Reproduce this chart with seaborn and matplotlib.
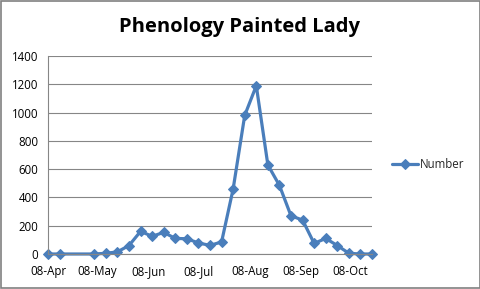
import matplotlib
matplotlib.use("Agg")
import matplotlib.pyplot as plt
import matplotlib.dates as mdates
from matplotlib.patches import Rectangle
import seaborn as sns
import pandas as pd
import numpy as np

dates = ["2010-04-08", "2010-04-15", "2010-05-06", "2010-05-13", "2010-05-20",
         "2010-05-27", "2010-06-03", "2010-06-10", "2010-06-17", "2010-06-24",
         "2010-07-01", "2010-07-08", "2010-07-15", "2010-07-22", "2010-07-29",
         "2010-08-05", "2010-08-12", "2010-08-19", "2010-08-26", "2010-09-02",
         "2010-09-09", "2010-09-16", "2010-09-23", "2010-09-30", "2010-10-07",
         "2010-10-14", "2010-10-21"]
numbers = [0, 0, 0, 5, 15, 60, 160, 125, 153, 110, 108, 78, 61, 85, 460,
           980, 1190, 630, 485, 270, 240, 75, 110, 60, 5, 0, 0]
tick_dates = ["2010-04-08", "2010-05-08", "2010-06-08", "2010-07-08",
              "2010-08-08", "2010-09-08", "2010-10-08"]
yticks = [0, 200, 400, 600, 800, 1000, 1200, 1400]
title = "Phenology Painted Lady"
series_name = "Number"

df = pd.DataFrame({"Date": pd.to_datetime(dates), series_name: numbers})

sns.set_style("white")
plt.rcParams["font.family"] = ["Open Sans", "DejaVu Sans"]

fig = plt.figure(figsize=(4.81, 2.89), dpi=100)
fig.patches.append(Rectangle((1 / 481, 1 / 289), 479 / 481, 287 / 289,
                             transform=fig.transFigure, fill=False,
                             edgecolor="#808080", linewidth=1.2))
ax = fig.add_axes([48 / 481, 1 - 254 / 289, (372 - 48) / 481, (254 - 56) / 289])

color = "#4A7EBB"
sns.lineplot(data=df, x="Date", y=series_name, ax=ax, color=color, linewidth=2.3,
             marker="D", markersize=5.5, markeredgecolor=color, label=series_name,
             clip_on=False)

ax.set_xlim(pd.Timestamp("2010-04-08"), pd.Timestamp("2010-10-21"))
ax.set_ylim(0, 1400)
ax.set_yticks(yticks)
ax.set_xticks(pd.to_datetime(tick_dates))
ax.xaxis.set_major_formatter(mdates.DateFormatter("%d-%b"))
ax.grid(axis="y", color="#868686", linewidth=0.8)
ax.set_axisbelow(True)
for s in ["top", "right"]:
    ax.spines[s].set_visible(False)
ax.spines["left"].set_color("#868686")
ax.spines["bottom"].set_color("#868686")
ax.spines["left"].set_linewidth(0.8)
ax.spines["bottom"].set_linewidth(0.8)
ax.tick_params(axis="both", which="major", length=4, width=0.8, color="#868686",
               labelsize=8.3, labelcolor="black", direction="out", pad=3)
ax.tick_params(axis="x", pad=4)
ax.set_xlabel("")
ax.set_ylabel("")

fig.text(240 / 481, 1 - 27 / 289, title, ha="center", va="center",
         fontsize=14.5, fontweight="bold", color="black")

ax.legend(loc="center left", bbox_to_anchor=(382 / 481, 1 - 165 / 289),
          bbox_transform=fig.transFigure, frameon=False, fontsize=8.3,
          handlelength=2.2, handletextpad=0.2)

fig.savefig("out.png", dpi=100)
